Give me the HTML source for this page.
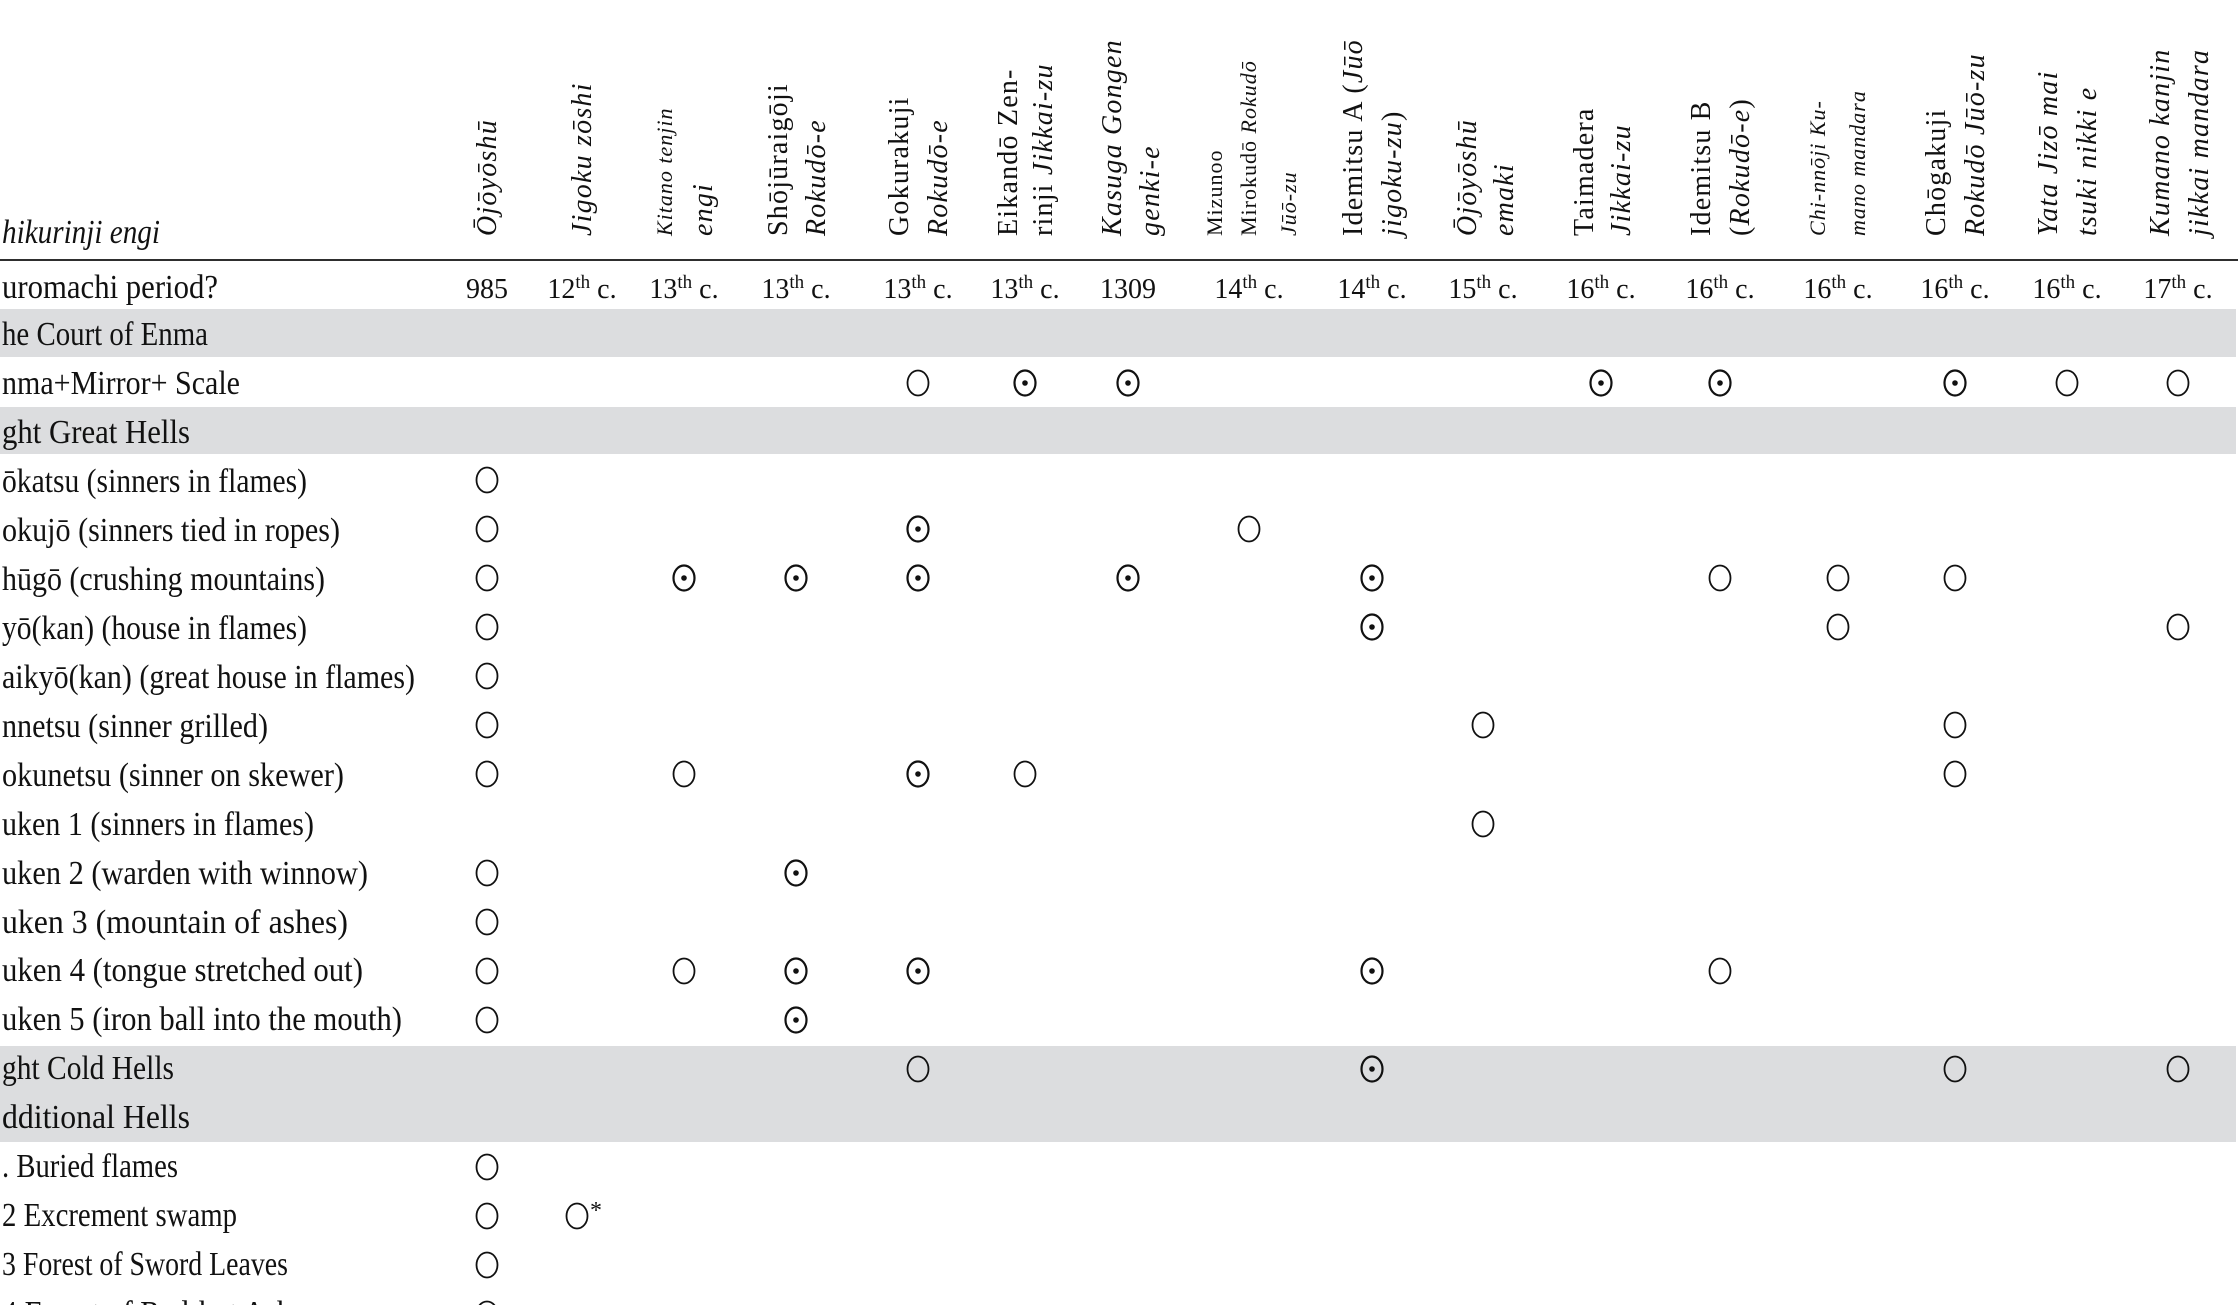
<!DOCTYPE html>
<html><head><meta charset="utf-8"><style>
html,body{margin:0;padding:0;background:#fff;}
svg{display:block;}
text{font-family:"Liberation Serif",serif;fill:#111;}
.h{font-size:28px;letter-spacing:1.2px;}
.hs{font-size:22px;letter-spacing:1px;}
.i{font-style:italic;}
.l{font-size:34px;}
.d{font-size:28px;text-anchor:middle;}
</style></head><body>
<svg width="2238" height="1305" viewBox="0 0 2238 1305" xmlns="http://www.w3.org/2000/svg">
<defs>
<g id="o"><ellipse cx="0" cy="0" rx="10.5" ry="12.5" fill="none" stroke="#111" stroke-width="1.8"/></g>
<g id="p"><ellipse cx="0" cy="0" rx="10.5" ry="12.5" fill="none" stroke="#111" stroke-width="2.2"/><circle cx="0" cy="0" r="2.8" fill="#111"/></g>
</defs>
<rect x="0" y="309" width="2236" height="48" fill="#dcdddf"/>
<rect x="0" y="407" width="2236" height="47" fill="#dcdddf"/>
<rect x="0" y="1046" width="2236" height="96" fill="#dcdddf"/>
<line x1="0" y1="260" x2="2238" y2="260" stroke="#111" stroke-width="1.8"/>

<text class="l i" x="2" y="243" textLength="158" lengthAdjust="spacingAndGlyphs">hikurinji engi</text>
<g class="h">
<text transform="translate(496,236) rotate(-90)" class="i">Ōjōyōshū</text>
<text transform="translate(591,236) rotate(-90)" class="i">Jigoku zōshi</text>
<text transform="translate(672,236) rotate(-90)" class="hs i">Kitano tenjin</text>
<text transform="translate(712,236) rotate(-90)" class="i">engi</text>
<text transform="translate(787,236) rotate(-90)">Shōjūraigōji</text>
<text transform="translate(825,236) rotate(-90)" class="i">Rokudō-e</text>
<text transform="translate(908,236) rotate(-90)">Gokurakuji</text>
<text transform="translate(947,236) rotate(-90)" class="i">Rokudō-e</text>
<text transform="translate(1017,236) rotate(-90)">Eikandō Zen-</text>
<text transform="translate(1052,236) rotate(-90)">rinji <tspan class="i">Jikkai-zu</tspan></text>
<text transform="translate(1121,236) rotate(-90)" class="i">Kasuga Gongen</text>
<text transform="translate(1159,236) rotate(-90)" class="i">genki-e</text>
<text transform="translate(1222,236) rotate(-90)" class="hs">Mizunoo</text>
<text transform="translate(1256,236) rotate(-90)" class="hs">Mirokudō <tspan class="i">Rokudō</tspan></text>
<text transform="translate(1296,236) rotate(-90)" class="hs i">Jūō-zu</text>
<text transform="translate(1362,236) rotate(-90)">Idemitsu A (<tspan class="i">Jūō</tspan></text>
<text transform="translate(1401,236) rotate(-90)"><tspan class="i">jigoku-zu</tspan>)</text>
<text transform="translate(1476,236) rotate(-90)" class="i">Ōjōyōshū</text>
<text transform="translate(1513,236) rotate(-90)" class="i">emaki</text>
<text transform="translate(1593,236) rotate(-90)">Taimadera</text>
<text transform="translate(1630,236) rotate(-90)" class="i">Jikkai-zu</text>
<text transform="translate(1710,236) rotate(-90)">Idemitsu B</text>
<text transform="translate(1749,236) rotate(-90)">(<tspan class="i">Rokudō-e</tspan>)</text>
<text transform="translate(1825,236) rotate(-90)" class="hs i">Chi-nnōji Ku-</text>
<text transform="translate(1865,236) rotate(-90)" class="hs i">mano mandara</text>
<text transform="translate(1945,236) rotate(-90)">Chōgakuji</text>
<text transform="translate(1984,236) rotate(-90)" class="i">Rokudō Jūō-zu</text>
<text transform="translate(2057,236) rotate(-90)" class="i">Yata Jizō mai</text>
<text transform="translate(2096,236) rotate(-90)" class="i">tsuki nikki e</text>
<text transform="translate(2169,236) rotate(-90)" class="i">Kumano kanjin</text>
<text transform="translate(2208,236) rotate(-90)" class="i">jikkai mandara</text>
</g>

<text class="l" x="2" y="298" textLength="216" lengthAdjust="spacingAndGlyphs">uromachi period?</text>
<g class="d">
<text x="487" y="298">985</text>
<text x="582" y="298">12<tspan dy="-10" font-size="19">th</tspan><tspan dy="10"> c.</tspan></text>
<text x="684" y="298">13<tspan dy="-10" font-size="19">th</tspan><tspan dy="10"> c.</tspan></text>
<text x="796" y="298">13<tspan dy="-10" font-size="19">th</tspan><tspan dy="10"> c.</tspan></text>
<text x="918" y="298">13<tspan dy="-10" font-size="19">th</tspan><tspan dy="10"> c.</tspan></text>
<text x="1025" y="298">13<tspan dy="-10" font-size="19">th</tspan><tspan dy="10"> c.</tspan></text>
<text x="1128" y="298">1309</text>
<text x="1249" y="298">14<tspan dy="-10" font-size="19">th</tspan><tspan dy="10"> c.</tspan></text>
<text x="1372" y="298">14<tspan dy="-10" font-size="19">th</tspan><tspan dy="10"> c.</tspan></text>
<text x="1483" y="298">15<tspan dy="-10" font-size="19">th</tspan><tspan dy="10"> c.</tspan></text>
<text x="1601" y="298">16<tspan dy="-10" font-size="19">th</tspan><tspan dy="10"> c.</tspan></text>
<text x="1720" y="298">16<tspan dy="-10" font-size="19">th</tspan><tspan dy="10"> c.</tspan></text>
<text x="1838" y="298">16<tspan dy="-10" font-size="19">th</tspan><tspan dy="10"> c.</tspan></text>
<text x="1955" y="298">16<tspan dy="-10" font-size="19">th</tspan><tspan dy="10"> c.</tspan></text>
<text x="2067" y="298">16<tspan dy="-10" font-size="19">th</tspan><tspan dy="10"> c.</tspan></text>
<text x="2178" y="298">17<tspan dy="-10" font-size="19">th</tspan><tspan dy="10"> c.</tspan></text>
</g>

<g class="l">
<text x="2" y="345" textLength="206" lengthAdjust="spacingAndGlyphs">he Court of Enma</text>
<text x="2" y="394" textLength="238" lengthAdjust="spacingAndGlyphs">nma+Mirror+ Scale</text>
<text x="2" y="443" textLength="188" lengthAdjust="spacingAndGlyphs">ght Great Hells</text>
<text x="2" y="492" textLength="305" lengthAdjust="spacingAndGlyphs">ōkatsu (sinners in flames)</text>
<text x="2" y="541" textLength="338" lengthAdjust="spacingAndGlyphs">okujō (sinners tied in ropes)</text>
<text x="2" y="590" textLength="323" lengthAdjust="spacingAndGlyphs">hūgō (crushing mountains)</text>
<text x="2" y="639" textLength="305" lengthAdjust="spacingAndGlyphs">yō(kan) (house in flames)</text>
<text x="2" y="688" textLength="413" lengthAdjust="spacingAndGlyphs">aikyō(kan) (great house in flames)</text>
<text x="2" y="737" textLength="266" lengthAdjust="spacingAndGlyphs">nnetsu (sinner grilled)</text>
<text x="2" y="786" textLength="342" lengthAdjust="spacingAndGlyphs">okunetsu (sinner on skewer)</text>
<text x="2" y="835" textLength="312" lengthAdjust="spacingAndGlyphs">uken 1 (sinners in flames)</text>
<text x="2" y="884" textLength="366" lengthAdjust="spacingAndGlyphs">uken 2 (warden with winnow)</text>
<text x="2" y="933" textLength="346" lengthAdjust="spacingAndGlyphs">uken 3 (mountain of ashes)</text>
<text x="2" y="981" textLength="361" lengthAdjust="spacingAndGlyphs">uken 4 (tongue stretched out)</text>
<text x="2" y="1030" textLength="400" lengthAdjust="spacingAndGlyphs">uken 5 (iron ball into the mouth)</text>
<text x="2" y="1079" textLength="172" lengthAdjust="spacingAndGlyphs">ght Cold Hells</text>
<text x="2" y="1128" textLength="188" lengthAdjust="spacingAndGlyphs">dditional Hells</text>
<text x="2" y="1177" textLength="176" lengthAdjust="spacingAndGlyphs">. Buried flames</text>
<text x="2" y="1226" textLength="235" lengthAdjust="spacingAndGlyphs">2 Excrement swamp</text>
<text x="2" y="1275" textLength="286" lengthAdjust="spacingAndGlyphs">3 Forest of Sword Leaves</text>
<text x="2" y="1324" textLength="290" lengthAdjust="spacingAndGlyphs">4 Forest of Red-hot Ash</text>
</g>

<use href="#o" x="918" y="383"/><use href="#p" x="1025" y="383"/><use href="#p" x="1128" y="383"/><use href="#p" x="1601" y="383"/><use href="#p" x="1720" y="383"/><use href="#p" x="1955" y="383"/><use href="#o" x="2067" y="383"/><use href="#o" x="2178" y="383"/>
<use href="#o" x="487" y="480"/>
<use href="#o" x="487" y="529"/><use href="#p" x="918" y="529"/><use href="#o" x="1249" y="529"/>
<use href="#o" x="487" y="578"/><use href="#p" x="684" y="578"/><use href="#p" x="796" y="578"/><use href="#p" x="918" y="578"/><use href="#p" x="1128" y="578"/><use href="#p" x="1372" y="578"/><use href="#o" x="1720" y="578"/><use href="#o" x="1838" y="578"/><use href="#o" x="1955" y="578"/>
<use href="#o" x="487" y="627"/><use href="#p" x="1372" y="627"/><use href="#o" x="1838" y="627"/><use href="#o" x="2178" y="627"/>
<use href="#o" x="487" y="676"/>
<use href="#o" x="487" y="725"/><use href="#o" x="1483" y="725"/><use href="#o" x="1955" y="725"/>
<use href="#o" x="487" y="774"/><use href="#o" x="684" y="774"/><use href="#p" x="918" y="774"/><use href="#o" x="1025" y="774"/><use href="#o" x="1955" y="774"/>
<use href="#o" x="1483" y="824"/>
<use href="#o" x="487" y="873"/><use href="#p" x="796" y="873"/>
<use href="#o" x="487" y="922"/>
<use href="#o" x="487" y="971"/><use href="#o" x="684" y="971"/><use href="#p" x="796" y="971"/><use href="#p" x="918" y="971"/><use href="#p" x="1372" y="971"/><use href="#o" x="1720" y="971"/>
<use href="#o" x="487" y="1020"/><use href="#p" x="796" y="1020"/>
<use href="#o" x="918" y="1069"/><use href="#p" x="1372" y="1069"/><use href="#o" x="1955" y="1069"/><use href="#o" x="2178" y="1069"/>
<use href="#o" x="487" y="1167"/>
<use href="#o" x="487" y="1216"/><use href="#o" x="577" y="1216"/><text x="590" y="1218" font-size="24">*</text>
<use href="#o" x="487" y="1265"/>
<use href="#o" x="487" y="1314"/>
</svg>
</body></html>
